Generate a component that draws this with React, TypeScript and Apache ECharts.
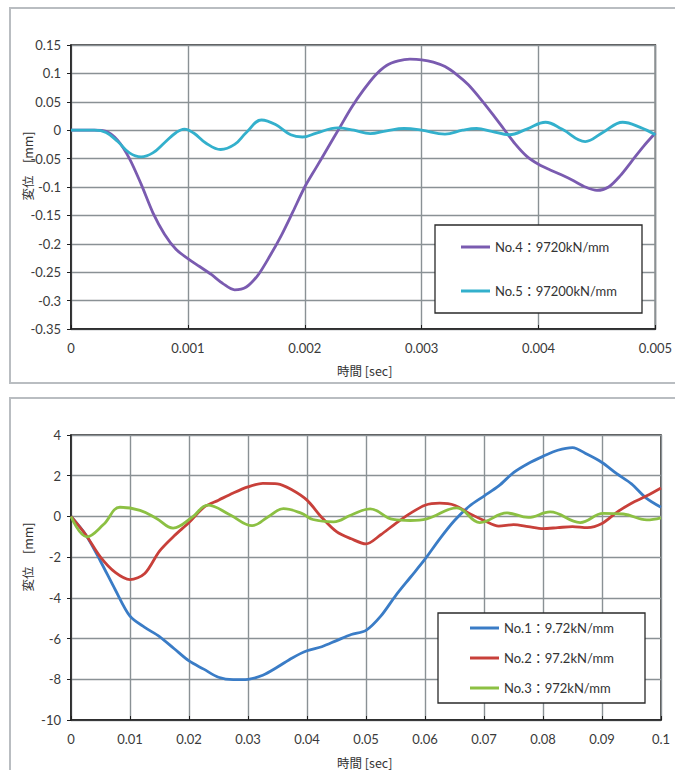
import React, { useEffect, useRef } from "react";
import * as echarts from "echarts";

// ---- Top chart (No.4 / No.5) ----
const time4 = [
  0, 0.0001, 0.0002, 0.0003, 0.0004, 0.0005, 0.0006, 0.0007, 0.0008, 0.0009,
  0.001, 0.0011, 0.0012, 0.0013, 0.0014, 0.0015, 0.0016, 0.0017, 0.0018, 0.0019,
  0.002, 0.0021, 0.0022, 0.0023, 0.0024, 0.0025, 0.0026, 0.0027, 0.0028, 0.0029,
  0.003, 0.0031, 0.0032, 0.0033, 0.0034, 0.0035, 0.0036, 0.0037, 0.0038, 0.0039,
  0.004, 0.0041, 0.0042, 0.0043, 0.0044, 0.0045, 0.0046, 0.0047, 0.0048, 0.0049, 0.005,
];
const disp4 = [
  0, 0, 0, -0.002, -0.018, -0.05, -0.095, -0.145, -0.183, -0.21,
  -0.226, -0.24, -0.254, -0.27, -0.281, -0.276, -0.255, -0.222, -0.185, -0.143,
  -0.1, -0.065, -0.03, 0.005, 0.04, 0.07, 0.096, 0.114, 0.122, 0.125,
  0.124, 0.12, 0.112, 0.098, 0.08, 0.056, 0.03, 0.003, -0.024, -0.046,
  -0.06, -0.07, -0.079, -0.089, -0.1, -0.106, -0.1, -0.08, -0.054, -0.028, -0.005,
];
const time5 = [
  0, 0.0002, 0.0003, 0.0004, 0.0005, 0.0006, 0.0007, 0.0008, 0.0009, 0.00097,
  0.00105, 0.00115, 0.00128, 0.0014, 0.0015, 0.00163, 0.00175, 0.00188, 0.00198, 0.0021,
  0.00228, 0.00242, 0.00256, 0.0027, 0.00285, 0.003, 0.0032, 0.00335, 0.00347, 0.0036,
  0.00375, 0.0039, 0.00406, 0.0042, 0.0044, 0.00455, 0.00472, 0.00487, 0.005,
];
const disp5 = [
  0, 0, -0.004, -0.02, -0.04, -0.047, -0.04, -0.022, -0.004, 0.002,
  -0.005, -0.022, -0.034, -0.025, -0.004, 0.018, 0.01, -0.008, -0.012, -0.005,
  0.004, 0, -0.006, -0.001, 0.003, 0, -0.007, 0, 0.003, -0.002,
  -0.008, 0.002, 0.014, 0.002, -0.02, -0.004, 0.014, 0.005, -0.008,
];

// ---- Bottom chart (No.1 / No.2 / No.3) ----
const time12 = [
  0, 0.0025, 0.005, 0.0075, 0.01, 0.0125, 0.015, 0.0175, 0.02, 0.0225,
  0.025, 0.0275, 0.03, 0.0325, 0.035, 0.0375, 0.04, 0.0425, 0.045, 0.0475,
  0.05, 0.0525, 0.055, 0.0575, 0.06, 0.0625, 0.065, 0.0675, 0.07, 0.0725,
  0.075, 0.0775, 0.08, 0.0825, 0.085, 0.0875, 0.09, 0.0925, 0.095, 0.0975, 0.1,
];
const disp1 = [
  0, -0.9, -2.2, -3.6, -4.9, -5.45, -5.9, -6.5, -7.1, -7.5,
  -7.9, -8.02, -8.0, -7.8, -7.4, -6.95, -6.6, -6.4, -6.1, -5.8,
  -5.6, -4.9, -3.9, -3.0, -2.1, -1.1, -0.2, 0.5, 1.0, 1.5,
  2.15, 2.6, 2.95, 3.25, 3.38, 3.05, 2.65, 2.1, 1.6, 0.9, 0.45,
];
const disp2 = [
  0, -0.9, -2.0, -2.75, -3.1, -2.8, -1.7, -0.95, -0.3, 0.45,
  0.8, 1.15, 1.45, 1.62, 1.6, 1.3, 0.8, -0.05, -0.75, -1.1,
  -1.35, -0.9, -0.35, 0.15, 0.55, 0.65, 0.55, 0.15, -0.2, -0.48,
  -0.4, -0.5, -0.6, -0.55, -0.5, -0.55, -0.35, 0.2, 0.65, 1.0, 1.4,
];
const time3 = [
  0, 0.0027, 0.0055, 0.0083, 0.0117, 0.0145, 0.0173, 0.0205, 0.0232, 0.027,
  0.0307, 0.0335, 0.036, 0.039, 0.041, 0.0445, 0.0475, 0.0507, 0.0546, 0.0575,
  0.0603, 0.0654, 0.0693, 0.0739, 0.0775, 0.0812, 0.0863, 0.0902, 0.0936, 0.0976, 0.1,
];
const disp3 = [
  0, -1.0, -0.4, 0.45, 0.3, -0.1, -0.57, -0.05, 0.56, 0.07,
  -0.45, 0.0, 0.38, 0.16, -0.15, -0.27, 0.07, 0.37, -0.15, -0.2,
  -0.12, 0.42, -0.3, 0.17, -0.05, 0.22, -0.3, 0.15, 0.12, -0.17, -0.07,
];

const topYTicks = { min: -0.35, max: 0.15, interval: 0.05 };
const topXTicks = { min: 0, max: 0.005, interval: 0.001 };
const botYTicks = { min: -10, max: 4, interval: 2 };
const botXTicks = { min: 0, max: 0.1, interval: 0.01 };

const names = [
  "No.4：9720kN/mm",
  "No.5：97200kN/mm",
  "No.1：9.72kN/mm",
  "No.2：97.2kN/mm",
  "No.3：972kN/mm",
];
const colors = ["#7a5bb0", "#33b0cc", "#3a7cc6", "#c8403a", "#8cc043"];

const FONT = "Lato, 'Noto Sans CJK JP', sans-serif";
const CJK = "'Noto Sans CJK JP', sans-serif";

const zip = (xs: number[], ys: number[]) => xs.map((x, i) => [x, ys[i]]);

function xAxisCfg(gridIndex: number, t: { min: number; max: number; interval: number }) {
  return {
    type: "value",
    gridIndex,
    min: t.min,
    max: t.max,
    interval: t.interval,
    axisLine: { show: true, onZero: false, lineStyle: { color: "#1e1e1e", width: 1.5 } },
    axisTick: { show: true, inside: true, length: 4, lineStyle: { color: "#1e1e1e" } },
    axisLabel: { margin: 12, fontSize: 13, color: "#3a3a3a", fontFamily: FONT },
    splitLine: { show: true, lineStyle: { color: "#8a9195", width: 1.4 } },
  };
}
function yAxisCfg(gridIndex: number, t: { min: number; max: number; interval: number }) {
  return {
    type: "value",
    gridIndex,
    min: t.min,
    max: t.max,
    interval: t.interval,
    axisLine: { show: true, lineStyle: { color: "#1e1e1e", width: 1.5 } },
    axisTick: { show: true, inside: false, length: 4, lineStyle: { color: "#1e1e1e" } },
    axisLabel: { margin: 10, fontSize: 13, color: "#3a3a3a", fontFamily: FONT },
    splitLine: { show: true, lineStyle: { color: "#8a9195", width: 1.4 } },
  };
}

function legendItem(name: string, left: number, cy: number) {
  return {
    data: [{ name, icon: "rect" }],
    left,
    top: cy - 8,
    padding: 0,
    itemWidth: 29,
    itemHeight: 3,
    selectedMode: false,
    textStyle: { fontSize: 13, color: "#333", fontFamily: FONT, lineHeight: 16 },
  };
}

export default function App() {
  const ref = useRef<HTMLDivElement>(null);
  useEffect(() => {
    if (!ref.current) return;
    const chart = echarts.init(ref.current, null, { renderer: "svg" });
    const lineSeries = (idx: number, xAxisIndex: number, xs: number[], ys: number[], smooth: number) => ({
      type: "line",
      name: names[idx],
      xAxisIndex,
      yAxisIndex: xAxisIndex,
      data: zip(xs, ys),
      symbol: "none",
      showSymbol: false,
      smooth,
      lineStyle: { color: colors[idx], width: 2.8 },
      itemStyle: { color: colors[idx] },
      z: 2,
    });
    chart.setOption({
      animation: false,
      backgroundColor: "#ffffff",
      grid: [
        { left: 71, top: 45, width: 590, height: 284, show: true, borderColor: "#1e1e1e", borderWidth: 1.5 },
        { left: 71, top: 435, width: 590, height: 285, show: true, borderColor: "#1e1e1e", borderWidth: 1.5 },
      ],
      xAxis: [xAxisCfg(0, topXTicks), xAxisCfg(1, botXTicks)],
      yAxis: [yAxisCfg(0, topYTicks), yAxisCfg(1, botYTicks)],
      legend: [
        legendItem(names[0], 461, 247),
        legendItem(names[1], 461, 291),
        legendItem(names[2], 470, 628),
        legendItem(names[3], 470, 658),
        legendItem(names[4], 470, 688),
      ],
      series: [
        lineSeries(0, 0, time4, disp4, 0.3),
        lineSeries(1, 0, time5, disp5, 0.4),
        lineSeries(2, 1, time12, disp1, 0.3),
        lineSeries(3, 1, time12, disp2, 0.3),
        lineSeries(4, 1, time3, disp3, 0.4),
      ],
      graphic: [
        { type: "rect", z: -1, shape: { x: 10, y: 8, width: 680, height: 375 }, style: { fill: "none", stroke: "#b9bdc1", lineWidth: 2 } },
        { type: "rect", z: -1, shape: { x: 10, y: 398, width: 680, height: 390 }, style: { fill: "none", stroke: "#b9bdc1", lineWidth: 2 } },
        { type: "rect", z: 3, shape: { x: 435, y: 225, width: 207, height: 88 }, style: { fill: "#ffffff", stroke: "#2a2a2a", lineWidth: 1.3 } },
        { type: "rect", z: 3, shape: { x: 438, y: 613, width: 207, height: 90 }, style: { fill: "#ffffff", stroke: "#2a2a2a", lineWidth: 1.3 } },
        { type: "text", z: 5, x: 27, y: 166, rotation: Math.PI / 2, style: { text: "変位　[mm]", fontSize: 12.5, fontFamily: CJK, fill: "#333", align: "center", verticalAlign: "middle" } },
        { type: "text", z: 5, x: 27, y: 557, rotation: Math.PI / 2, style: { text: "変位　[mm]", fontSize: 12.5, fontFamily: CJK, fill: "#333", align: "center", verticalAlign: "middle" } },
        { type: "text", z: 5, x: 337, y: 370, style: { text: "時間 [sec]", fontSize: 12.5, fontFamily: CJK, fill: "#333", align: "left", verticalAlign: "middle" } },
        { type: "text", z: 5, x: 337, y: 762, style: { text: "時間 [sec]", fontSize: 12.5, fontFamily: CJK, fill: "#333", align: "left", verticalAlign: "middle" } },
      ],
    });
    return () => chart.dispose();
  }, []);
  return (
    <div
      ref={ref}
      style={{ position: "fixed", left: 0, top: 0, width: 675, height: 770, background: "#fff" }}
    />
  );
}
